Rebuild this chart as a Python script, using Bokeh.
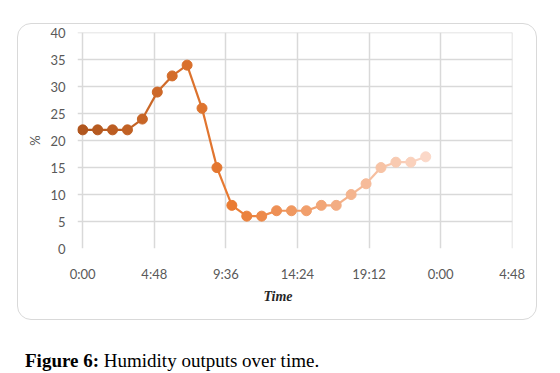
from bokeh.plotting import figure
from bokeh.models import Range1d, FixedTicker, Title, Div
from bokeh.layouts import column
from bokeh.embed import file_html
from bokeh.resources import INLINE

# data
hours = [0, 1, 2, 3, 4, 5, 6, 7, 8, 9, 10, 11, 12, 13, 14, 15, 16, 17, 18, 19, 20, 21, 22, 23]
humidity = [22, 22, 22, 22, 24, 29, 32, 34, 26, 15, 8, 6, 6, 7, 7, 7, 8, 8, 10, 12, 15, 16, 16, 17]
x_ticks = [0, 4.8, 9.6, 14.4, 19.2, 24.0, 28.8]
x_tick_labels = ["0:00", "4:48", "9:36", "14:24", "19:12", "0:00", "4:48"]
y_ticks = [0, 5, 10, 15, 20, 25, 30, 35, 40]

# colour gradient (style)
anchors = [(0, (0xB0, 0x56, 0x1E)), (10, (0xEA, 0x7B, 0x32)), (23, (0xFB, 0xD8, 0xC8))]
def col(i):
    for (a, ca), (b, cb) in zip(anchors[:-1], anchors[1:]):
        if a <= i <= b:
            t = (i - a) / (b - a)
            c = [int(round(ca[k] + (cb[k] - ca[k]) * t)) for k in range(3)]
            return "#%02x%02x%02x" % tuple(c)
    return "#%02x%02x%02x" % anchors[-1][1]

colors = [col(i) for i in range(len(hours))]
seg_colors = [col(i + 0.5) for i in range(len(hours) - 1)]

W, H = 520, 297
p = figure(width=W, height=H, output_backend="svg", toolbar_location=None,
           x_range=Range1d(-0.35, 28.82), y_range=Range1d(0, 40.05),
           min_border_left=59, min_border_right=26, min_border_top=8, min_border_bottom=73,
           margin=(23, 0, 0, 17),
           styles={"border": "1.5px solid #d9d9d9", "border-radius": "14px"})
p.outline_line_color = None
p.background_fill_color = None
p.border_fill_color = None

GRID = "#d9d9d9"
p.xgrid.ticker = FixedTicker(ticks=x_ticks)
p.ygrid.ticker = FixedTicker(ticks=y_ticks)
p.xgrid.grid_line_color = GRID
p.ygrid.grid_line_color = GRID
p.xgrid.grid_line_width = 1.5
p.ygrid.grid_line_width = 1.5

FONT = "Lato"
p.xaxis.ticker = FixedTicker(ticks=x_ticks)
p.xaxis.major_label_overrides = {t: l for t, l in zip(x_ticks, x_tick_labels)}
p.yaxis.ticker = FixedTicker(ticks=y_ticks)
for ax in (p.xaxis, p.yaxis):
    ax.axis_line_color = None
    ax.major_tick_line_color = None
    ax.minor_tick_line_color = None
    ax.major_label_text_font = FONT
    ax.major_label_text_font_size = "13px"
    ax.major_label_text_color = "#595959"
p.xaxis.major_label_standoff = 11
p.yaxis.major_label_standoff = 6
p.yaxis.axis_label = "%"
p.yaxis.axis_label_text_font = FONT
p.yaxis.axis_label_text_font_style = "normal"
p.yaxis.axis_label_text_font_size = "13px"
p.yaxis.axis_label_text_color = "#595959"
p.yaxis.axis_label_standoff = 4

# line and markers
p.segment(x0=hours[:-1], y0=humidity[:-1], x1=hours[1:], y1=humidity[1:],
          line_color=seg_colors, line_width=2.2)
p.scatter(hours, humidity, size=10, fill_color=colors, line_color=colors)

p.add_layout(Title(text="Time", align="left", offset=186, standoff=4,
                   text_font="Liberation Serif", text_font_style="bold italic",
                   text_font_size="14px", text_color="#262626"), "below")

caption = Div(text="<b>Figure 6:</b> Humidity outputs over time.",
              styles={"font-family": "Liberation Serif", "font-size": "19px", "color": "#000"},
              margin=(27, 0, 0, 25))

layout = column(p, caption)
open("out.html", "w").write(file_html(layout, INLINE))
